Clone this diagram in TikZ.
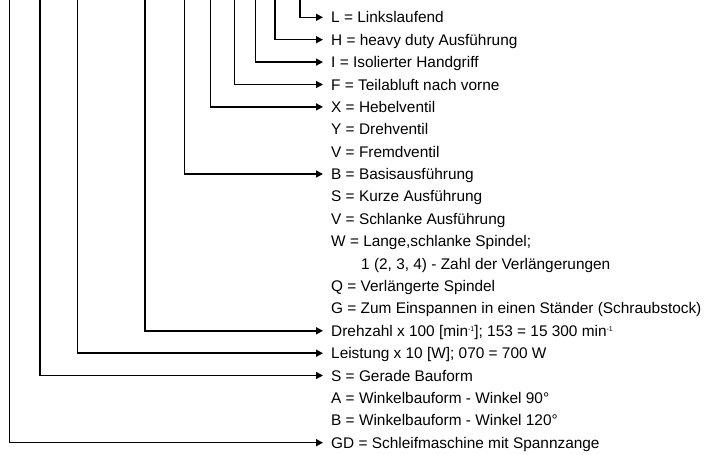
\documentclass[tikz,border=0pt]{standalone}
\usepackage{fontspec}
\setmainfont{Liberation Sans}
\usetikzlibrary{arrows.meta}
\newcommand{\supmin}{\raisebox{5pt}{\fontsize{7}{7}\selectfont -1}}

\begin{document}
\begin{tikzpicture}[x=1pt,y=-1pt,>={Triangle[length=7pt,width=7pt]},every node/.style={font=\fontsize{15.4}{18}\selectfont},
  conn/.style={->,line width=1.5pt},
  item/.style={anchor=west,inner xsep=8pt,inner ysep=0pt,text height=11pt,text depth=0pt}]
\useasboundingbox (0,0) rectangle (704,455);
\node[item](lnk) at (323,17.3){L = Linkslaufend};
\node[item](hd) at (323,39.7){H = heavy duty Ausführung};
\node[item](iso) at (323,62.1){I = Isolierter Handgriff};
\node[item](teil) at (323,84.5){F = Teilabluft nach vorne};
\node[item](hebel) at (323,106.9){X = Hebelventil};
\node[item](drehv) at (323,129.3){Y = Drehventil};
\node[item](fremd) at (323,151.6){V = Fremdventil};
\node[item](basis) at (323,174.0){B = Basisausführung};
\node[item](kurz) at (323,196.4){S = Kurze Ausführung};
\node[item](schlank) at (323,218.8){V = Schlanke Ausführung};
\node[item](lang) at (323,241.2){W = Lange,schlanke Spindel;};
\node[item](zahl) at (353,263.6){1 (2, 3, 4) - Zahl der Verlängerungen};
\node[item](verl) at (323,286.0){Q = Verlängerte Spindel};
\node[item](staend) at (323,308.4){G = Zum Einspannen in einen Ständer (Schraubstock)};
\node[item](drehz) at (323,330.8){Drehzahl x 100 [min\supmin]; 153 = 15 300 min\supmin};
\node[item](leist) at (323,353.2){Leistung x 10 [W]; 070 = 700 W};
\node[item](gerade) at (323,375.5){S = Gerade Bauform};
\node[item](w90) at (323,397.9){A = Winkelbauform - Winkel 90°};
\node[item](w120) at (323,420.3){B = Winkelbauform - Winkel 120°};
\node[item](gd) at (323,442.7){GD = Schleifmaschine mit Spannzange};
% top ends of the code lines
\coordinate (tLnk) at (300,0); \coordinate (tHd) at (275,0); \coordinate (tIso) at (255.7,0);
\coordinate (tTeil) at (234.3,0); \coordinate (tHebel) at (210.7,0); \coordinate (tBasis) at (184.3,0);
\coordinate (tDrehz) at (145,0); \coordinate (tLeist) at (77.3,0); \coordinate (tGerade) at (40,0);
\coordinate (tGd) at (9.3,0);
\draw[conn](tLnk)|-(lnk.west); \draw[conn](tHd)|-(hd.west); \draw[conn](tIso)|-(iso.west);
\draw[conn](tTeil)|-(teil.west); \draw[conn](tHebel)|-(hebel.west); \draw[conn](tBasis)|-(basis.west);
\draw[conn](tDrehz)|-(drehz.west); \draw[conn](tLeist)|-(leist.west); \draw[conn](tGerade)|-(gerade.west);
\draw[conn](tGd)|-(gd.west);
\end{tikzpicture}
\end{document}
